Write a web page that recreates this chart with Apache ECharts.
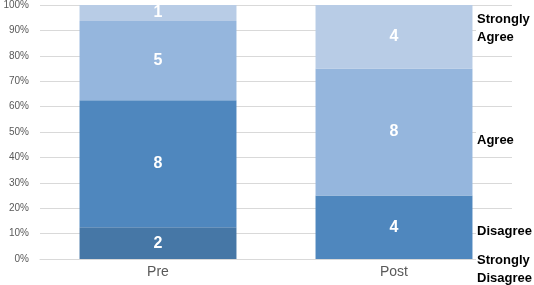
<!DOCTYPE html>
<html><head><meta charset="utf-8">
<script src="https://cdn.jsdelivr.net/npm/echarts@6/dist/echarts.min.js"></script>
<style>html,body{margin:0;padding:0;background:#fff}#c{width:534px;height:285px}</style>
</head><body><div id="c"></div>
<script>
const categories = ['Pre', 'Post'];
const seriesNames = ['Strongly Disagree', 'Disagree', 'Agree', 'Strongly Agree'];
const stronglyDisagree = [2, 0];
const disagree = [8, 4];
const agree = [5, 8];
const stronglyAgree = [1, 4];
const yTicks = [0, 10, 20, 30, 40, 50, 60, 70, 80, 90, 100];

const counts = [stronglyDisagree, disagree, agree, stronglyAgree];
const colors = ['#4677A6', '#4F87BE', '#95B6DD', '#B8CCE6'];
const totals = categories.map((_, i) => counts.reduce((s, a) => s + a[i], 0));

const chart = echarts.init(document.getElementById('c'));
const font = 'Liberation Sans';
const rightLabels = [
  {text: 'Strongly\nAgree', y: 10},
  {text: 'Agree', y: 131},
  {text: 'Disagree', y: 222},
  {text: 'Strongly\nDisagree', y: 251}
];
chart.setOption({
  animation: false,
  grid: {left: 40, right: 22, top: 4, bottom: 26},
  xAxis: {
    type: 'category', data: categories,
    axisLine: {lineStyle: {color: '#d9d9d9'}},
    axisTick: {show: false},
    axisLabel: {color: '#595959', fontSize: 14, fontFamily: font, margin: 6}
  },
  yAxis: {
    type: 'value', min: 0, max: 100, interval: 10,
    axisLabel: {formatter: '{value}%', color: '#595959', fontSize: 10, fontFamily: font, margin: 11},
    splitLine: {lineStyle: {color: '#d9d9d9'}},
    axisLine: {show: false}, axisTick: {show: false}
  },
  series: counts.map((arr, k) => ({
    name: seriesNames[k], type: 'bar', stack: 'a', barWidth: '66.5%',
    itemStyle: {color: colors[k]},
    data: arr.map((v, i) => ({value: v / totals[i] * 100, count: v})),
    label: {
      show: true, position: 'inside', color: '#fff', fontWeight: 'bold',
      fontSize: 16, fontFamily: font,
      formatter: p => p.data.count ? String(p.data.count) : ''
    }
  })),
  graphic: rightLabels.map(l => ({
    type: 'text', left: 476, top: l.y, z: 100,
    style: {text: l.text, fill: '#000', font: 'bold 13px "Liberation Sans"', lineHeight: 18,
            backgroundColor: '#fff', padding: [0, 4, 0, 1]}
  }))
});
</script></body></html>
